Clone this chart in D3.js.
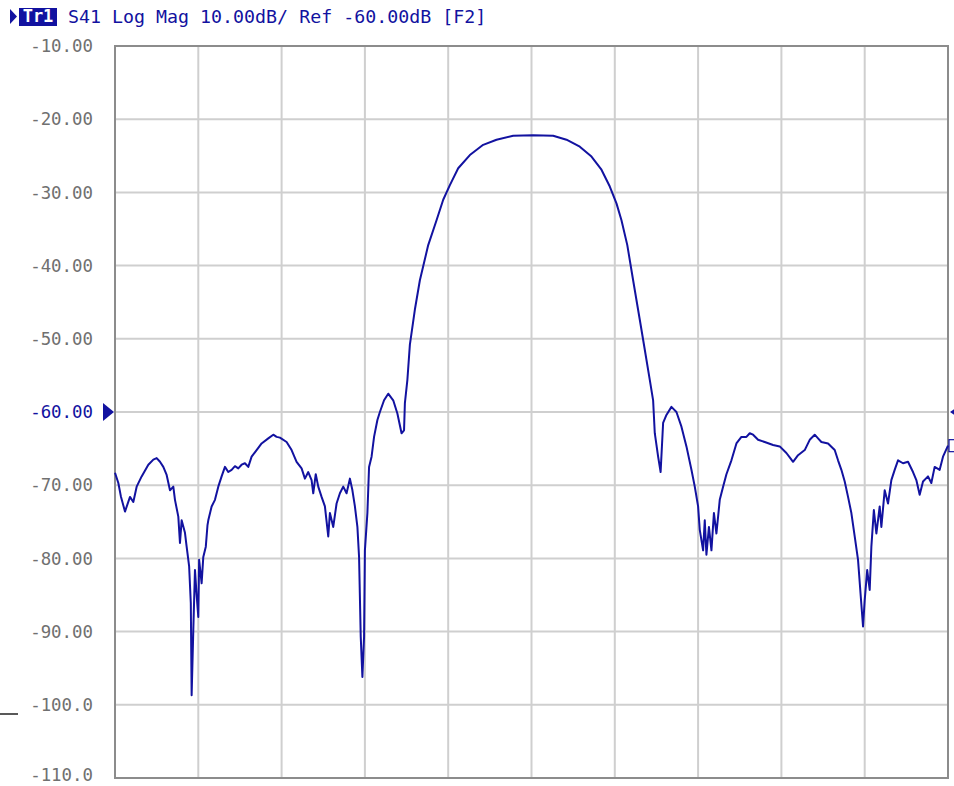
<!DOCTYPE html>
<html>
<head>
<meta charset="utf-8">
<script src="https://cdn.jsdelivr.net/npm/d3@7"></script>
<style>
  body { margin: 0; background: #fff; }
  svg { display: block; }
</style>
</head>
<body>
<div id="chart"></div>
<script>
// trace readout, x in grid divisions (0..10), y in dB
const pos = [
  0.00, 0.04, 0.07, 0.12, 0.18, 0.22, 0.26, 0.32, 0.40, 0.46, 0.50, 0.54, 0.58, 0.62, 0.66, 0.70,
  0.72, 0.76, 0.78, 0.80, 0.84, 0.86, 0.89, 0.91, 0.92, 0.94, 0.96, 0.98, 1.00, 1.01, 1.04, 1.06,
  1.09, 1.11, 1.12, 1.16, 1.20, 1.24, 1.28, 1.32, 1.36, 1.40, 1.44, 1.48, 1.52, 1.56, 1.60, 1.64,
  1.70, 1.76, 1.84, 1.90, 1.94, 1.98, 2.06, 2.12, 2.18, 2.24, 2.28, 2.32, 2.36, 2.38, 2.41, 2.44,
  2.48, 2.52, 2.56, 2.58, 2.62, 2.66, 2.70, 2.74, 2.78, 2.82, 2.85, 2.88, 2.91, 2.93, 2.95, 2.97,
  2.99, 3.00, 3.03, 3.05, 3.08, 3.11, 3.15, 3.18, 3.23, 3.28, 3.34, 3.39, 3.44, 3.47, 3.48, 3.51,
  3.54, 3.60, 3.66, 3.76, 3.86, 3.94, 4.02, 4.12, 4.26, 4.42, 4.58, 4.78, 5.02, 5.26, 5.42, 5.58,
  5.72, 5.84, 5.94, 6.02, 6.08, 6.15, 6.22, 6.30, 6.36, 6.42, 6.46, 6.48, 6.52, 6.55, 6.58, 6.62,
  6.68, 6.74, 6.80, 6.86, 6.92, 6.96, 7.00, 7.02, 7.06, 7.08, 7.10, 7.13, 7.16, 7.19, 7.22, 7.26,
  7.30, 7.34, 7.40, 7.46, 7.52, 7.58, 7.62, 7.66, 7.72, 7.80, 7.90, 7.98, 8.06, 8.10, 8.14, 8.20,
  8.28, 8.34, 8.40, 8.44, 8.48, 8.56, 8.64, 8.68, 8.72, 8.76, 8.80, 8.84, 8.88, 8.92, 8.95, 8.98,
  9.00, 9.03, 9.06, 9.08, 9.11, 9.14, 9.18, 9.20, 9.24, 9.28, 9.32, 9.36, 9.40, 9.46, 9.52, 9.58,
  9.62, 9.66, 9.70, 9.76, 9.80, 9.84, 9.90, 9.94, 10.00
];
const mag = [
  -68.3, -69.7, -71.5, -73.6, -71.6, -72.3, -70.2, -68.8, -67.2, -66.5, -66.3, -66.8, -67.5, -68.6, -70.7, -70.2,
  -72.0, -74.3, -77.9, -74.8, -76.5, -78.4, -81.1, -86.1, -98.7, -89.8, -81.6, -85.0, -88.0, -80.2, -83.4, -79.8,
  -78.4, -75.5, -74.8, -72.9, -72.0, -70.2, -68.8, -67.5, -68.2, -67.9, -67.4, -67.7, -67.2, -67.0, -67.5, -66.1,
  -65.2, -64.3, -63.6, -63.1, -63.4, -63.5, -64.1, -65.2, -66.8, -67.7, -69.1, -68.2, -69.3, -71.1, -68.5, -70.2,
  -71.6, -72.9, -77.0, -73.8, -75.7, -72.5, -71.1, -70.2, -71.1, -69.1, -70.7, -72.9, -75.7, -79.8, -90.7, -96.2,
  -90.7, -78.9, -73.8, -67.5, -66.1, -63.4, -61.1, -60.0, -58.4, -57.5, -58.4, -60.2, -62.9, -62.5, -58.8, -55.6,
  -50.8, -46.0, -42.0, -37.2, -33.8, -31.0, -29.0, -26.7, -24.9, -23.5, -22.8, -22.25, -22.2, -22.25, -22.8, -23.75,
  -25.1, -26.9, -29.2, -31.5, -33.8, -37.2, -42.0, -47.4, -51.5, -55.6, -58.4, -62.9, -66.1, -68.2, -61.5, -60.4,
  -59.3, -60.0, -62.0, -64.7, -67.9, -70.2, -72.9, -76.1, -78.9, -74.8, -79.5, -75.7, -78.9, -73.8, -76.6, -72.0,
  -70.2, -68.5, -66.6, -64.3, -63.4, -63.4, -62.9, -63.1, -63.8, -64.1, -64.5, -64.7, -65.6, -66.2, -66.8, -65.9,
  -65.2, -63.8, -63.1, -63.6, -64.1, -64.3, -65.2, -66.6, -67.9, -69.5, -71.6, -73.8, -77.0, -80.2, -84.8, -89.3,
  -85.7, -81.6, -84.3, -78.4, -73.4, -76.6, -72.9, -75.7, -70.7, -72.5, -69.3, -67.9, -66.6, -67.0, -66.8, -68.2,
  -69.3, -71.3, -69.5, -68.8, -69.7, -67.5, -67.9, -66.1, -64.6
];

const yTicks = [-10, -20, -30, -40, -50, -60, -70, -80, -90, -100, -110];
const yLabels = ["-10.00", "-20.00", "-30.00", "-40.00", "-50.00", "-60.00", "-70.00", "-80.00", "-90.00", "-100.0", "-110.0"];
const xDivs = d3.range(0, 11);
const refLevel = -60;
const header = "S41 Log Mag 10.00dB/ Ref -60.00dB [F2]";

const W = 954, H = 786;
const box = { left: 115, right: 948, top: 46, bottom: 778 };
const navy = "#1212a0";
const mono = "'DejaVu Sans Mono', 'Liberation Mono', monospace";

const svg = d3.select("#chart").append("svg")
  .attr("width", W).attr("height", H);

const x = d3.scaleLinear().domain([0, 10]).range([box.left, box.right]);
const y = d3.scaleLinear().domain([-110, -10]).range([box.bottom, box.top]);

// grid
svg.append("g").selectAll("line").data(xDivs).join("line")
  .attr("x1", d => x(d)).attr("x2", d => x(d))
  .attr("y1", box.top).attr("y2", box.bottom)
  .attr("stroke", "#cfcfcf").attr("stroke-width", 2);
svg.append("g").selectAll("line").data(yTicks).join("line")
  .attr("x1", box.left).attr("x2", box.right)
  .attr("y1", d => y(d)).attr("y2", d => y(d))
  .attr("stroke", "#cfcfcf").attr("stroke-width", 2);

// frame
svg.append("rect")
  .attr("x", box.left).attr("y", box.top)
  .attr("width", box.right - box.left).attr("height", box.bottom - box.top)
  .attr("fill", "none").attr("stroke", "#8c8c8c").attr("stroke-width", 2);

// y labels (bottom one nudged up so it stays inside the window)
svg.append("g").selectAll("text").data(yTicks).join("text")
  .attr("x", 93).attr("y", d => Math.min(y(d), 775))
  .attr("dy", "0.36em")
  .attr("text-anchor", "end")
  .attr("font-family", mono).attr("font-size", 17.4)
  .attr("fill", d => d === refLevel ? navy : "#707070")
  .text((d, i) => yLabels[i]);

// reference markers
const ry = y(refLevel);
svg.append("path")
  .attr("d", `M103,${ry - 9} L114,${ry} L103,${ry + 9} Z`)
  .attr("fill", navy);
svg.append("path")
  .attr("d", `M960,${ry - 7} L950,${ry} L960,${ry + 7} Z`)
  .attr("fill", navy);

// trace
const line = d3.line()
  .x((d, i) => x(pos[i]))
  .y(d => y(d));
svg.append("path")
  .datum(mag)
  .attr("d", line)
  .attr("fill", "none")
  .attr("stroke", navy)
  .attr("stroke-width", 2)
  .attr("stroke-linejoin", "round");

// trace end marker
svg.append("rect")
  .attr("x", x(10) + 1).attr("y", y(mag[mag.length - 1]) - 6)
  .attr("width", 8).attr("height", 12)
  .attr("fill", "#fff").attr("stroke", navy).attr("stroke-width", 1.2);

// header
svg.append("path").attr("d", "M10,9 L17,16.5 L10,24 Z").attr("fill", navy);
svg.append("rect").attr("x", 19).attr("y", 8).attr("width", 38).attr("height", 18).attr("fill", navy);
svg.append("text")
  .attr("x", 38).attr("y", 22).attr("text-anchor", "middle")
  .attr("font-family", mono).attr("font-size", 17).attr("font-weight", "bold")
  .attr("fill", "#fff").text("Tr1");
svg.append("text")
  .attr("x", 68).attr("y", 23)
  .attr("font-family", mono).attr("font-size", 18.3)
  .attr("fill", navy).text(header);

// stray tick at left edge
svg.append("line")
  .attr("x1", 0).attr("x2", 18).attr("y1", 714).attr("y2", 714)
  .attr("stroke", "#222").attr("stroke-width", 1.5);
</script>
</body>
</html>
